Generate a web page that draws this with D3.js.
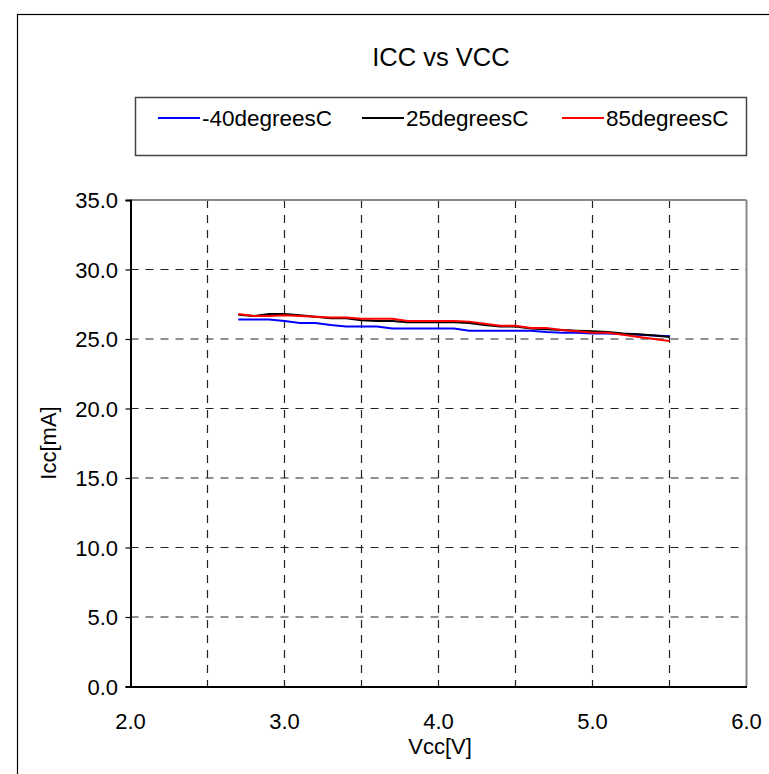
<!DOCTYPE html>
<html><head><meta charset="utf-8">
<script src="https://cdn.jsdelivr.net/npm/d3@7"></script>
<style>body{margin:0;background:#fff}svg{display:block;font-family:Arial,"Liberation Sans",sans-serif}</style>
</head><body><svg id="c" width="769" height="774"></svg>
<script>
const vcc = [2.7,2.8,2.9,3.0,3.1,3.2,3.3,3.4,3.5,3.6,3.7,3.8,3.9,4.0,4.1,4.2,4.3,4.4,4.5,4.6,4.7,4.8,4.9,5.0,5.1,5.2,5.3,5.4,5.5];
const iccM40 = [26.4,26.4,26.4,26.3,26.15,26.15,26.0,25.9,25.9,25.9,25.75,25.75,25.75,25.75,25.75,25.6,25.6,25.6,25.6,25.6,25.5,25.45,25.45,25.4,25.4,25.35,25.3,25.25,25.2];
const icc25 = [26.75,26.65,26.8,26.8,26.7,26.6,26.5,26.5,26.35,26.3,26.3,26.2,26.2,26.2,26.2,26.15,26.0,25.9,25.9,25.75,25.7,25.65,25.6,25.55,25.5,25.4,25.35,25.25,25.15];
const icc85 = [26.8,26.65,26.65,26.7,26.65,26.6,26.55,26.55,26.45,26.45,26.45,26.3,26.3,26.3,26.3,26.25,26.1,25.95,25.95,25.8,25.8,25.65,25.55,25.45,25.45,25.3,25.15,25.0,24.85];
const seriesNames = ["-40degreesC","25degreesC","85degreesC"];
const seriesColors = ["#0000ff","#000000","#ff0000"];
const xTicks = [2.0,3.0,4.0,5.0,6.0];
const xGrid = [2.5,3.0,3.5,4.0,4.5,5.0,5.5];
const yTicks = [0,5,10,15,20,25,30,35];

const svg = d3.select("#c");
const L=130.5, R=746.5, T=200, B=686.5;
const x = d3.scaleLinear().domain([2,6]).range([L,R]);
const y = d3.scaleLinear().domain([0,35]).range([B,T]);
const FS = 22;

// outer frame
svg.append("rect").attr("x",17.5).attr("y",14.5).attr("width",900).attr("height",900)
  .attr("fill","none").attr("stroke","#000").attr("stroke-width",1.2);

// title
svg.append("text").attr("x",441).attr("y",66).attr("text-anchor","middle")
  .attr("font-size",25.5).text("ICC vs VCC");

// grid
const g = svg.append("g");
g.selectAll(".vg").data(xGrid).join("line")
  .attr("x1",d=>x(d)).attr("x2",d=>x(d)).attr("y1",T).attr("y2",B)
  .attr("stroke","#222").attr("stroke-width",1.2).attr("stroke-dasharray","8,7");
g.selectAll(".hg").data(yTicks.filter(d=>d>0&&d<35)).join("line")
  .attr("x1",L).attr("x2",R).attr("y1",d=>y(d)).attr("y2",d=>y(d))
  .attr("stroke","#222").attr("stroke-width",1.2).attr("stroke-dasharray","8,7");

// plot border top/right gray
svg.append("line").attr("x1",L).attr("x2",R).attr("y1",T).attr("y2",T).attr("stroke","#888").attr("stroke-width",2);
svg.append("line").attr("x1",R).attr("x2",R).attr("y1",T).attr("y2",B).attr("stroke","#888").attr("stroke-width",2);

// axes
const xa = svg.append("g").attr("transform",`translate(0,${B})`)
  .call(d3.axisBottom(x).tickValues(xGrid.concat([2,6])).tickSize(0).tickFormat(""));
xa.select(".domain").attr("stroke","#000").attr("stroke-width",2);
const ya = svg.append("g").attr("transform",`translate(${L},0)`)
  .call(d3.axisLeft(y).tickValues(yTicks).tickSize(5).tickFormat(""));
ya.select(".domain").attr("stroke","#000").attr("stroke-width",2);
ya.selectAll(".tick line").attr("stroke","#000").attr("stroke-width",1.2);

svg.append("g").selectAll("text").data(xTicks).join("text")
  .attr("x",d=>x(d)).attr("y",729).attr("text-anchor","middle").attr("font-size",FS)
  .text(d=>d.toFixed(1));
svg.append("g").selectAll("text").data(yTicks).join("text")
  .attr("x",118).attr("y",d=>y(d)+8).attr("text-anchor","end").attr("font-size",FS)
  .text(d=>d.toFixed(1));

svg.append("text").attr("x",440).attr("y",754).attr("text-anchor","middle").attr("font-size",FS).text("Vcc[V]");
svg.append("text").attr("transform","translate(56,443) rotate(-90)").attr("text-anchor","middle").attr("font-size",FS).text("Icc[mA]");

// lines
const allSeries = [iccM40, icc25, icc85];
const line = d3.line().x((d,i)=>x(vcc[i])).y(d=>y(d));
allSeries.forEach((s,k)=>{
  svg.append("path").datum(s).attr("d",line).attr("fill","none")
    .attr("stroke",seriesColors[k]).attr("stroke-width",2);
});

// legend
svg.append("rect").attr("x",135.5).attr("y",97.5).attr("width",611).attr("height",58)
  .attr("fill","#fff").attr("stroke","#444").attr("stroke-width",1.5);
const lx = [158,362,562];
seriesNames.forEach((n,k)=>{
  svg.append("line").attr("x1",lx[k]).attr("x2",lx[k]+42).attr("y1",118).attr("y2",118)
    .attr("stroke",seriesColors[k]).attr("stroke-width",2);
  svg.append("text").attr("x",lx[k]+44).attr("y",126).attr("font-size",22.5).text(n);
});
</script></body></html>
